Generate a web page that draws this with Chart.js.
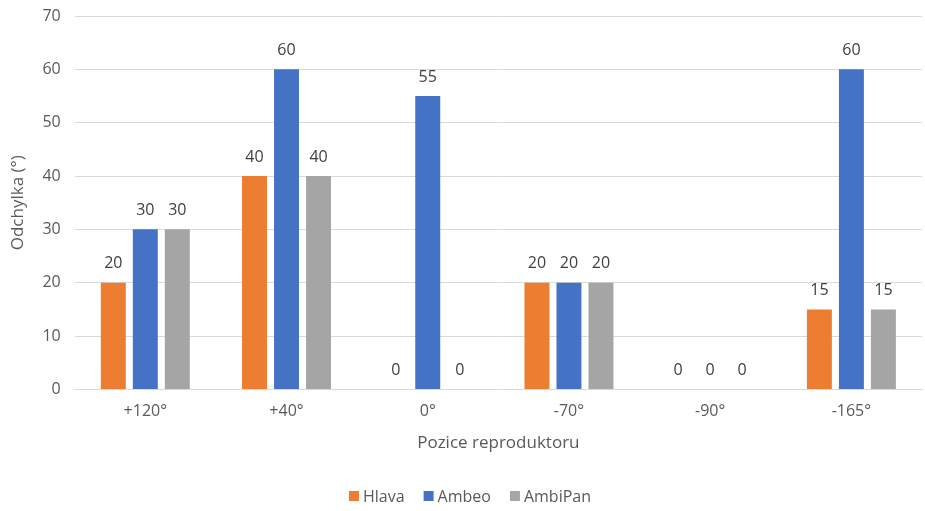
<!DOCTYPE html>
<html>
<head>
<meta charset="utf-8">
<script src="https://cdn.jsdelivr.net/npm/chart.js@4/dist/chart.umd.min.js"></script>
<style>
  html, body { margin: 0; padding: 0; background: #ffffff; }
  #wrap { width: 925px; height: 511px; }
</style>
</head>
<body>
<div id="wrap"><canvas id="c" width="925" height="511"></canvas></div>
<script>
const categories = ['+120°', '+40°', '0°', '-70°', '-90°', '-165°'];
const hlava = [20, 40, 0, 20, 0, 15];
const ambeo = [30, 60, 55, 20, 0, 60];
const ambiPan = [30, 40, 0, 20, 0, 15];
const yTicks = [0, 10, 20, 30, 40, 50, 60, 70];

const FONT = '"Open Sans", "Noto Sans", sans-serif';

// Value labels above each bar
const valueLabels = {
  id: 'valueLabels',
  afterDatasetsDraw(chart) {
    const ctx = chart.ctx;
    ctx.save();
    ctx.font = '16px ' + FONT;
    ctx.fillStyle = '#404040';
    ctx.textAlign = 'center';
    ctx.textBaseline = 'middle';
    chart.data.datasets.forEach((ds, i) => {
      const meta = chart.getDatasetMeta(i);
      meta.data.forEach((bar, j) => {
        ctx.fillText(String(ds.data[j]), bar.x, bar.y - 19);
      });
    });
    ctx.restore();
  }
};

// Compact legend row along the bottom edge: small square, tight gap, label
const bottomLegend = {
  id: 'bottomLegend',
  afterDraw(chart, args, opts) {
    const ctx = chart.ctx;
    ctx.save();
    ctx.font = opts.size + 'px ' + FONT;
    ctx.textBaseline = 'middle';
    ctx.textAlign = 'left';
    const items = chart.data.datasets.map(ds => ({
      text: ds.label, color: ds.backgroundColor, w: ctx.measureText(ds.label).width
    }));
    const total = items.reduce((s, it) => s + opts.box + opts.gap + it.w, 0) + opts.spacing * (items.length - 1);
    let x = opts.centerX - total / 2;
    const y = chart.height - opts.fromBottom;
    items.forEach(it => {
      ctx.fillStyle = it.color;
      ctx.fillRect(x, y - opts.box / 2, opts.box, opts.box);
      x += opts.box + opts.gap;
      ctx.fillStyle = '#595959';
      ctx.fillText(it.text, x, y + 1);
      x += it.w + opts.spacing;
    });
    ctx.restore();
  }
};

new Chart(document.getElementById('c'), {
  type: 'bar',
  data: {
    labels: categories,
    datasets: [
      { label: 'Hlava', data: hlava, backgroundColor: '#ED7D31' },
      { label: 'Ambeo', data: ambeo, backgroundColor: '#4472C4' },
      { label: 'AmbiPan', data: ambiPan, backgroundColor: '#A5A5A5' }
    ]
  },
  options: {
    responsive: false,
    animation: false,
    devicePixelRatio: 1,
    layout: { padding: { top: 0, right: 3, left: 8, bottom: 29 } },
    datasets: { bar: { categoryPercentage: 0.68, barPercentage: 0.78 } },
    plugins: {
      legend: { display: false },
      tooltip: { enabled: false },
      bottomLegend: { size: 16, box: 10, gap: 4, spacing: 19, centerX: 470, fromBottom: 15 }
    },
    scales: {
      x: {
        grid: { display: false },
        border: { display: true, color: '#d9d9d9' },
        ticks: { color: '#595959', font: { family: FONT, size: 16 }, padding: 4 },
        title: {
          display: true, text: 'Pozice reproduktoru', color: '#595959',
          font: { family: FONT, size: 17 }, padding: { top: 8, bottom: 29 }
        }
      },
      y: {
        min: 0, max: 70,
        afterBuildTicks(axis) { axis.ticks = yTicks.map(v => ({ value: v })); },
        grid: { color: '#d9d9d9', drawTicks: false },
        border: { display: false },
        ticks: { color: '#595959', font: { family: FONT, size: 16, lineHeight: 0.25 }, padding: 14 },
        title: {
          display: true, text: 'Odchylka (°)', color: '#595959',
          font: { family: FONT, size: 17 }, padding: { top: 0, bottom: 0 }
        }
      }
    }
  },
  plugins: [valueLabels, bottomLegend]
});
</script>
</body>
</html>
